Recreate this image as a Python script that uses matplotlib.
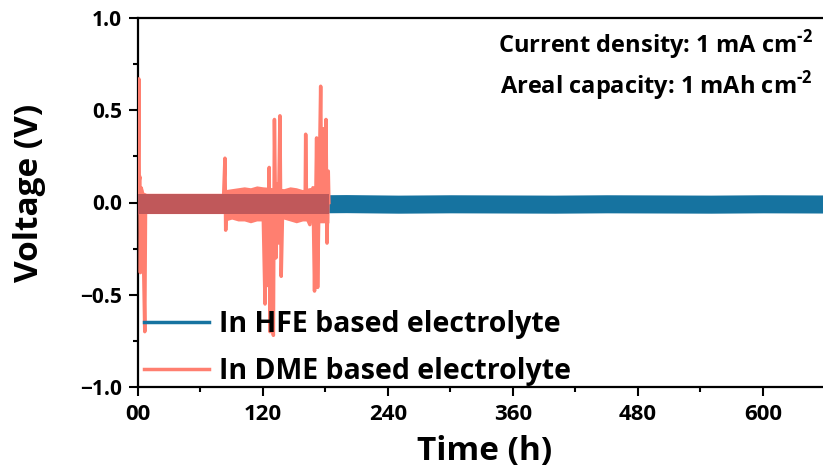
import matplotlib
matplotlib.use('Agg')
import matplotlib.pyplot as plt
from matplotlib.ticker import MultipleLocator, FixedLocator

plt.rcParams['font.family'] = ['Open Sans', 'DejaVu Sans']
plt.rcParams['font.weight'] = 'bold'
plt.rcParams['mathtext.fontset'] = 'custom'
plt.rcParams['mathtext.rm'] = 'Open Sans:bold'
plt.rcParams['mathtext.bf'] = 'Open Sans:bold'

# HFE cell: dense cycling, kept as the upper / lower edge of the band
hfe_t = [0, 50, 100, 150, 200, 250, 300, 350, 400, 450, 500, 550, 600, 650, 700]
hfe_hi = [0.040, 0.042, 0.040, 0.041, 0.043, 0.040, 0.042, 0.041, 0.040, 0.042, 0.041, 0.040, 0.042, 0.041, 0.040]
hfe_lo = [-0.058, -0.056, -0.058, -0.057, -0.055, -0.058, -0.056, -0.057, -0.058, -0.056, -0.057, -0.058, -0.056, -0.057, -0.058]

# DME cell: core band, the wider noisy band after ~83 h, and the spikes
dme_band_t = [0, 60, 120, 183]
dme_band_hi = [0.045, 0.045, 0.045, 0.045]
dme_band_lo = [-0.060, -0.060, -0.060, -0.060]

dme_env_t = [0, 1.2, 2.5, 4, 8, 82.5, 84, 90, 96, 102, 108, 114, 120, 130, 140, 146, 152, 158, 164, 170, 176, 183.3]
dme_env_hi = [0.05, 0.13, 0.09, 0.06, 0.05, 0.05, 0.07, 0.075, 0.08, 0.085, 0.08, 0.09, 0.085, 0.08, 0.075, 0.085, 0.08, 0.07, 0.08, 0.085, 0.09, 0.09]
dme_env_lo = [-0.06, -0.07, -0.07, -0.06, -0.06, -0.06, -0.10, -0.09, -0.10, -0.10, -0.11, -0.10, -0.10, -0.10, -0.09, -0.10, -0.11, -0.10, -0.10, -0.11, -0.11, -0.11]

dme_t = [0, 0.8, 1.2, 1.8, 2.3, 3.0, 4.0, 5.0, 5.5, 6.5, 7.2, 8, 30, 60, 82,
         83.5, 84.2, 85, 120, 122, 123, 124, 126,
         126.7, 127.5, 128.5, 130, 131, 132.5, 133.5, 134.5, 136.3, 137.5, 139,
         160.5, 161, 162, 165, 168, 169.5, 171.5, 172.5, 175.4, 176.5,
         178, 179, 180.5, 181.5, 182.7, 183.3]
dme_v = [0.0, 0.67, 0.12, 0.14, -0.38, 0.08, 0.06, -0.05, -0.38, -0.70, -0.06, 0.0, 0.0, 0.0, 0.0,
         0.24, -0.15, 0.0, 0.0, -0.55, 0.07, -0.45, 0.19,
         -0.70, 0.05, -0.62, -0.72, 0.45, -0.30, 0.10, -0.22, 0.47, -0.40, 0.0,
         0.0, 0.37, -0.08, -0.12, 0.08, -0.48, 0.35, -0.46, 0.63, -0.10,
         0.40, -0.05, 0.45, -0.22, 0.17, 0.0]

x_ticks = [0, 120, 240, 360, 480, 600]
x_labels = ['00', '120', '240', '360', '480', '600']
y_ticks = [-1.0, -0.5, 0.0, 0.5, 1.0]

blue = '#1673a0'
salmon = '#ff7f70'
darkred = '#c0585a'

fig = plt.figure(figsize=(8.23, 4.70), dpi=100)
ax = fig.add_axes([138 / 823, 83 / 470, 729 / 823, 369 / 470])

ax.fill_between(hfe_t, hfe_lo, hfe_hi, color=blue, lw=0, zorder=2)
dme_line, = ax.plot(dme_t, dme_v, color=salmon, lw=2.5, zorder=3,
                    label='In DME based electrolyte')
ax.fill_between(dme_env_t, dme_env_lo, dme_env_hi, color=salmon, lw=0, zorder=3)
ax.fill_between(dme_band_t, dme_band_lo, dme_band_hi, color=darkred, lw=0, zorder=4)
hfe_line, = ax.plot([], [], color=blue, lw=2.5, label='In HFE based electrolyte')

ax.set_xlim(0, 700)
ax.set_ylim(-1.0, 1.0)
ax.xaxis.set_major_locator(FixedLocator(x_ticks))
ax.set_xticklabels(x_labels)
ax.xaxis.set_minor_locator(MultipleLocator(60))
ax.set_yticks(y_ticks)
ax.yaxis.set_minor_locator(MultipleLocator(0.25))

for s in ax.spines.values():
    s.set_linewidth(1.6)
ax.tick_params(which='major', direction='out', length=6.5, width=1.5)
ax.tick_params(which='minor', direction='out', length=3.6, width=1.5)
ax.tick_params(axis='y', labelsize=15, pad=5)
ax.tick_params(axis='x', labelsize=16, pad=6)
ax.tick_params(top=False, right=False, which='both')

ax.set_ylabel('Voltage (V)', fontsize=24, fontweight='bold', va='center')
ax.yaxis.set_label_coords(-0.1495, 0.526)
ax.set_xlabel('Time (h)', fontsize=24, fontweight='bold', va='center')
ax.xaxis.set_label_coords(0.476, -0.176)

ax.legend(handles=[hfe_line, dme_line], loc='lower left', bbox_to_anchor=(0.0, -0.012),
          frameon=False, fontsize=20.5, handlelength=2.3, handletextpad=0.35,
          labelspacing=0.62, borderaxespad=0, borderpad=0.2)

fig.text(0.988, 0.904, r'Current density: 1 mA cm$^{\text{-2}}$', fontsize=17,
         ha='right', va='center')
fig.text(0.988, 0.817, r'Areal capacity: 1 mAh cm$^{\text{-2}}$', fontsize=17,
         ha='right', va='center')

fig.savefig('out.png', dpi=100)
